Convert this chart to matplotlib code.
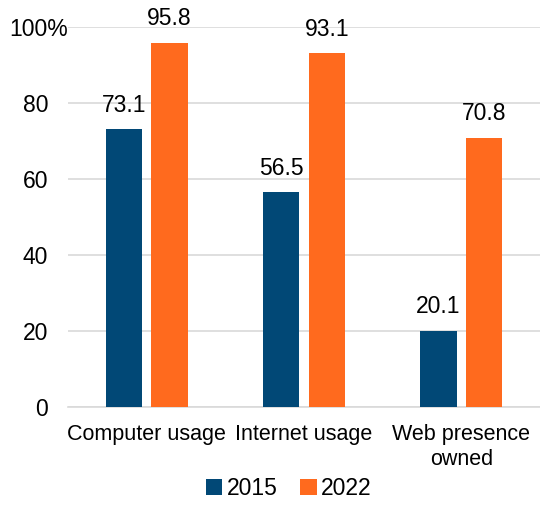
import numpy as np
import matplotlib.pyplot as plt
from matplotlib.transforms import ScaledTranslation

categories = ["Computer usage", "Internet usage", "Web presence\nowned"]
years = ["2015", "2022"]
values_2015 = [73.1, 56.5, 20.1]
values_2022 = [95.8, 93.1, 70.8]
y_ticks = [0, 20, 40, 60, 80, 100]
y_tick_labels = ["0", "20", "40", "60", "80", "100%"]

navy = "#014876"
orange = "#FF6A1E"

plt.rcParams['font.family'] = ['Liberation Sans', 'DejaVu Sans']

fig = plt.figure(figsize=(5.4, 5.05), dpi=100)
ax = fig.add_axes([68 / 540, 1 - 407 / 505, 472 / 540, 380 / 505])

x = np.arange(len(categories))
w = 0.23
off = 0.145
b1 = ax.bar(x - off, values_2015, w, color=navy, label=years[0], zorder=3)
b2 = ax.bar(x + off, values_2022, w, color=orange, label=years[1], zorder=3)

for bars in (b1, b2):
    for rect in bars:
        h = rect.get_height()
        ax.annotate(f"{h:.1f}", (rect.get_x() + rect.get_width() / 2, h),
                    xytext=(0, 9), textcoords="offset points",
                    ha="center", va="bottom", fontsize=16.5, color="black")

ax.set_xlim(-0.5, 2.5)
ax.set_ylim(0, 100)
ax.set_yticks(y_ticks)
ax.set_yticklabels(y_tick_labels, fontsize=16.5)
ax.set_xticks(x)
ax.set_xticklabels(categories, fontsize=15.5, linespacing=1.3)
ax.tick_params(axis="both", length=0, colors="black")
ax.tick_params(axis="y", pad=14.4)
ax.tick_params(axis="x", pad=12)

# numbers line up on the right, the "%" hangs past them
pct = ax.get_yticklabels()[-1]
pct.set_transform(pct.get_transform() + ScaledTranslation(0.2, 0, fig.dpi_scale_trans))

ax.grid(axis="y", color="#D9D9D9", linewidth=1.2, zorder=0)
for s in ["top", "right", "left"]:
    ax.spines[s].set_visible(False)
ax.spines["bottom"].set_color("#D9D9D9")
ax.spines["bottom"].set_linewidth(1.2)

ax.legend(loc="lower center", bbox_to_anchor=(0.468, -0.30), ncol=2, frameon=False,
          fontsize=16.5, handlelength=0.7, handleheight=0.7, handletextpad=0.2,
          columnspacing=1.0)

fig.savefig("out.png", dpi=100)
